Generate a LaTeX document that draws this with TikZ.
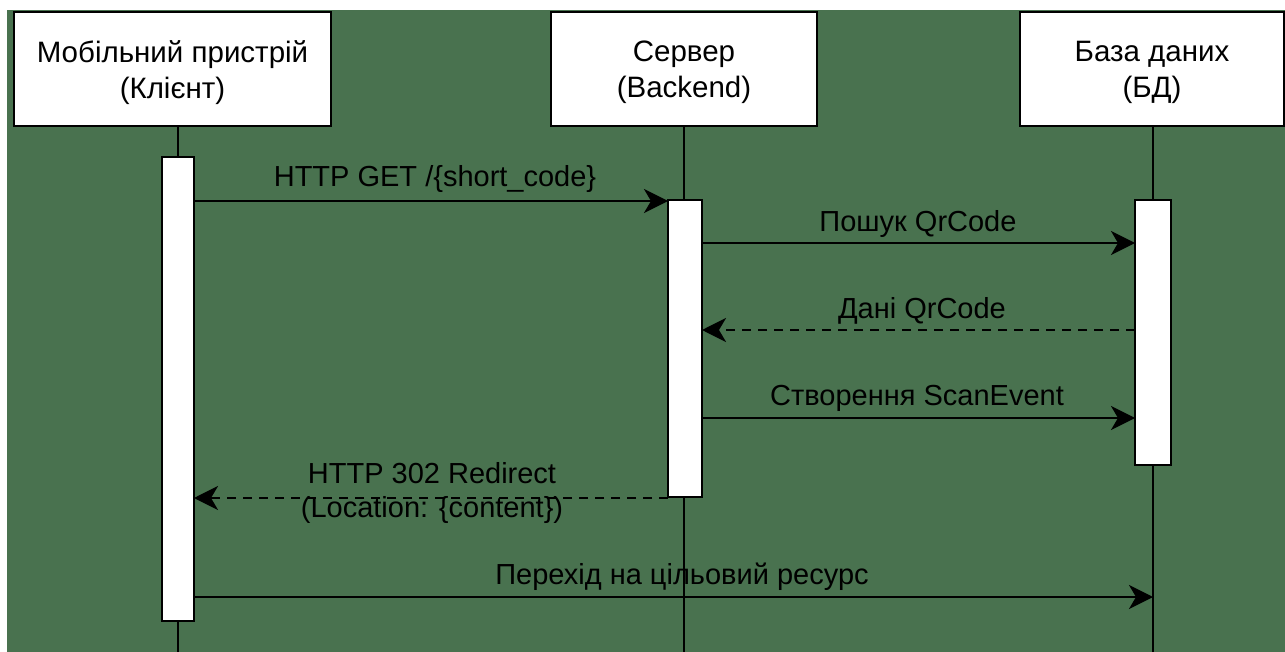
\documentclass[tikz,border=0pt]{standalone}
\usepackage{fontspec}
\setmainfont{Liberation Sans}
\usetikzlibrary{arrows.meta}
\definecolor{bggreen}{RGB}{73,114,79}
\begin{document}
\begin{tikzpicture}[x=1bp,y=-1bp,
  line width=2.6bp,
  actor/.style={draw=black, fill=white, inner sep=0pt, outer sep=0pt},
  actortext/.style={align=center, inner sep=0pt, font=\fontsize{29.5bp}{36bp}\selectfont},
  bar/.style={draw=black, fill=white, inner sep=0pt, outer sep=0pt},
  life/.style={draw=black},
  msg/.style={-{Stealth[length=24bp,width=24bp,inset=7bp]}},
  ret/.style={msg, dash pattern=on 9bp off 7bp},
  lbl/.style={font=\fontsize{29bp}{34bp}\selectfont, inner sep=0pt, align=center}
]
\useasboundingbox (0,0) rectangle (1285,652);
\fill[white] (0,0) rectangle (1285,652);
\fill[bggreen] (7,10) rectangle (1285,652);

% actors
\node[actor, minimum width=317bp, minimum height=114bp] (cl) at (172.5,69) {};
\node[actortext] (clt) at ([yshift=-3.5bp]cl.center) {Мобільний пристрій\\(Клієнт)};
\node[actor, minimum width=266bp, minimum height=114bp] (sv) at (684,69) {};
\node[actortext] (svt) at ([yshift=-3.5bp]sv.center) {Сервер\\(Backend)};
\node[actor, minimum width=264bp, minimum height=114bp] (db) at (1152,69) {};
\node[actortext] (dbt) at ([yshift=-3.5bp]db.center) {База даних\\(БД)};

% lifeline ends
\coordinate (clend) at (178,652);
\coordinate (svend) at (684,652);
\coordinate (dbend) at (1153,652);
\draw[life] (clend |- cl.south) -- (clend);
\draw[life] (svend |- sv.south) -- (svend);
\draw[life] (dbend |- db.south) -- (dbend);

% activation bars
\node[bar, minimum width=32bp, minimum height=464bp] (cb) at (178,389) {};
\node[bar, minimum width=34bp, minimum height=297bp] (sb) at (685,348.5) {};
\node[bar, minimum width=36bp, minimum height=265bp] (db2) at (1153,332.5) {};

% messages
\draw[msg] (cb.east |- 0,201) -- (sb.west |- 0,201);
\node[lbl, anchor=base] (l1) at (435,187) {HTTP GET /\{short\_code\}};

\draw[msg] (sb.east |- 0,243) -- (db2.west |- 0,243);
\node[lbl, anchor=base] (l2) at (918,232) {Пошук QrCode};

\draw[ret] (db2.west |- 0,330) -- (sb.east |- 0,330);
\node[lbl, anchor=base] (l3) at (922,318) {Дані QrCode};

\draw[msg] (sb.east |- 0,418) -- (db2.west |- 0,418);
\node[lbl, anchor=base] (l4) at (917,405) {Створення ScanEvent};

\draw[ret] (sb.west |- 0,498) -- (cb.east |- 0,498);
\node[lbl] (l5) at (432,492.5) {HTTP 302 Redirect\\(Location: \{content\})};

\draw[msg] (cb.east |- 0,597) -- (dbend |- 0,597);
\node[lbl, anchor=base] (l6) at (682,584) {Перехід на цільовий ресурс};
\end{tikzpicture}
\end{document}
